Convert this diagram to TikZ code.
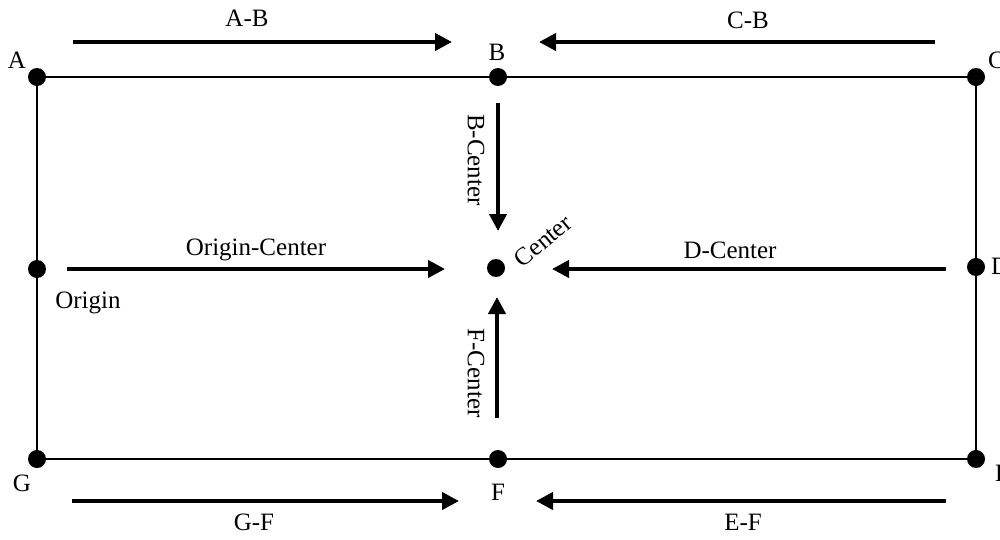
\documentclass[tikz,border=0pt]{standalone}
\usepackage{fontspec}
\setmainfont{Liberation Serif}
\usetikzlibrary{arrows.meta}
\begin{document}
\begin{tikzpicture}[x=1pt,y=-1pt,
  dot/.style={circle,fill=black,inner sep=0pt,minimum size=18pt},
  edge/.style={line width=2pt},
  flow/.style={line width=4pt,-{Triangle[length=17pt,width=17pt]}},
  lbl/.style={font=\fontsize{25}{28}\selectfont,inner sep=0pt}]
\useasboundingbox (0,0) rectangle (1000,540);
\fill[white] (0,0) rectangle (1000,540);

% corner and mid-side points
\node[dot] (A) at (37,77) {};
\node[dot] (B) at (498,77) {};
\node[dot] (C) at (976,77) {};
\node[dot] (D) at (976,267) {};
\node[dot] (E) at (976,459) {};
\node[dot] (F) at (498,459) {};
\node[dot] (G) at (37,459) {};
\node[dot] (O) at (37,269) {};
\node[dot] (Ctr) at (496,268) {};

% outline of the rectangle
\draw[edge] (A.center) -- (B.center) -- (C.center) -- (D.center) -- (E.center) -- (F.center) -- (G.center) -- (O.center) -- cycle;

% point labels
\node[lbl] at (17,60) {A};
\node[lbl] at (497,52) {B};
\node[lbl,anchor=west] at (988,60) {C};
\node[lbl,anchor=west] at (991,266) {D};
\node[lbl,anchor=west] at (995,473) {E};
\node[lbl] at (498,492) {F};
\node[lbl] at (22,483) {G};
\node[lbl] at (88,303) {Origin};
\node[lbl,rotate=40] at (543,241) {Center};

% flow arrows
\coordinate (abS) at (73,42);  \coordinate (abE) at (452,42);
\coordinate (cbS) at (935,42); \coordinate (cbE) at (539,42);
\coordinate (ocS) at (67,269); \coordinate (ocE) at (445,269);
\coordinate (dcS) at (946,269); \coordinate (dcE) at (552,269);
\coordinate (bcS) at (498,103); \coordinate (bcE) at (498,231);
\coordinate (fcS) at (497,418); \coordinate (fcE) at (497,297);
\coordinate (gfS) at (72,501); \coordinate (gfE) at (459,501);
\coordinate (efS) at (946,501); \coordinate (efE) at (536,501);

\draw[flow] (abS) -- (abE);
\draw[flow] (cbS) -- (cbE);
\draw[flow] (ocS) -- (ocE);
\draw[flow] (dcS) -- (dcE);
\draw[flow] (bcS) -- (bcE);
\draw[flow] (fcS) -- (fcE);
\draw[flow] (gfS) -- (gfE);
\draw[flow] (efS) -- (efE);

% arrow labels
\node[lbl] at (247,18) {A-B};
\node[lbl] at (748,20) {C-B};
\node[lbl] at (256,250) {Origin-Center};
\node[lbl] at (730,250) {D-Center};
\node[lbl,rotate=-90] at (476,160) {B-Center};
\node[lbl,rotate=-90] at (476,373) {F-Center};
\node[lbl] at (254,522) {G-F};
\node[lbl] at (743,522) {E-F};
\end{tikzpicture}
\end{document}
